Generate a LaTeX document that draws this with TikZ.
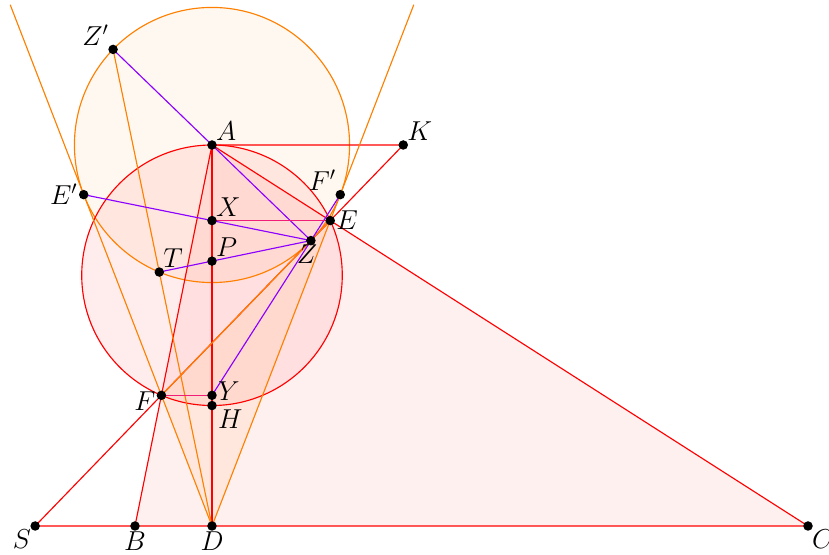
\documentclass[tikz,border=0pt]{standalone}
\definecolor{violetline}{RGB}{140,0,255}
\definecolor{pinkline}{RGB}{240,30,120}
\begin{document}
\begin{tikzpicture}[x=0.0185cm,y=0.0185cm,line cap=round,line join=round,
    redl/.style={red,line width=0.6pt},
    orl/.style={orange,line width=0.6pt},
    vil/.style={violetline,line width=0.6pt},
    pkl/.style={pinkline,line width=0.6pt},
    dot/.style={fill=black},
    lbl/.style={inner sep=1pt,font=\Large}]
  \useasboundingbox (-212,-29) rectangle (617,526);
  \coordinate (A) at (0,381);
  \coordinate (B) at (-77,0);
  \coordinate (C) at (596,0);
  \coordinate (D) at (0,0);
  \coordinate (H) at (0,120.45);
  \coordinate (E) at (118.24,305.41);
  \coordinate (F) at (-50.59,130.67);
  \coordinate (X) at (0,305.41);
  \coordinate (Y) at (0,130.67);
  \coordinate (S) at (-176.84,0);
  \coordinate (K) at (191.27,381);
  \coordinate (E') at (-128.28,331.34);
  \coordinate (F') at (128.28,331.34);
  \coordinate (Z) at (98.92,285.42);
  \coordinate (Z') at (-98.92,476.58);
  \coordinate (T) at (-52.71,253.94);
  \coordinate (P) at (0,264.88);
  \coordinate (O) at (0,250.73);
  \coordinate (Ftop) at (-201.7,521);
  \coordinate (Etop) at (201.7,521);
  % shaded regions
  \fill[red,fill opacity=0.06] (A) -- (B) -- (C) -- cycle;
  \fill[orange,fill opacity=0.06] (A) circle (137.56);
  \fill[red,fill opacity=0.07] (O) circle (130.27);
  \fill[orange,fill opacity=0.08] (D) -- (E) -- (F) -- cycle;
  % circles
  \draw[orl] (A) circle (137.56);
  \draw[redl] (O) circle (130.27);
  % red lines
  \draw[redl] (S) -- (C) -- (A) -- (B);
  \draw[redl] (A) -- (D);
  \draw[redl] (A) -- (K) -- (S);
  % orange lines
  \draw[orl] (Ftop) -- (D) -- (Etop);
  \draw[orl] (Z') -- (D);
  \draw[orl] (F) -- (E);
  % violet lines
  \draw[vil] (Z') -- (Z);
  \draw[vil] (E') -- (Z);
  \draw[vil] (T) -- (Z);
  \draw[vil] (Y) -- (F');
  % pink lines
  \draw[pkl] (X) -- (E);
  \draw[pkl] (F) -- (Y);
  % points
  \foreach \p in {A,B,C,D,H,E,F,X,Y,S,K,E',F',Z,Z',T,P}
    \fill[dot] (\p) circle (2.5pt);
  % labels
  \node[lbl,above right=1pt] (lA) at (A) {$A$};
  \node[lbl,above right=1pt] (lK) at (K) {$K$};
  \node[lbl,right=2pt] (lE) at (E) {$E$};
  \node[lbl,above left=1pt] (lF') at (F') {$F'$};
  \node[lbl,above right=1pt] (lX) at (X) {$X$};
  \node[lbl,below=1pt,xshift=-2pt] (lZ) at (Z) {$Z$};
  \node[lbl,above right=1pt] (lP) at (P) {$P$};
  \node[lbl,above right=1pt] (lT) at (T) {$T$};
  \node[lbl,left=2pt] (lE') at (E') {$E'$};
  \node[lbl,above left=1pt] (lZ') at (Z') {$Z'$};
  \node[lbl,left=2pt,yshift=-3pt] (lF) at (F) {$F$};
  \node[lbl,right=2pt,yshift=2pt] (lY) at (Y) {$Y$};
  \node[lbl,below right=1pt,xshift=1pt] (lH) at (H) {$H$};
  \node[lbl,below left=1pt] (lS) at (S) {$S$};
  \node[lbl,below=2pt] (lB) at (B) {$B$};
  \node[lbl,below=2pt] (lD) at (D) {$D$};
  \node[lbl,below right=1pt] (lC) at (C) {$C$};
\end{tikzpicture}
\end{document}
